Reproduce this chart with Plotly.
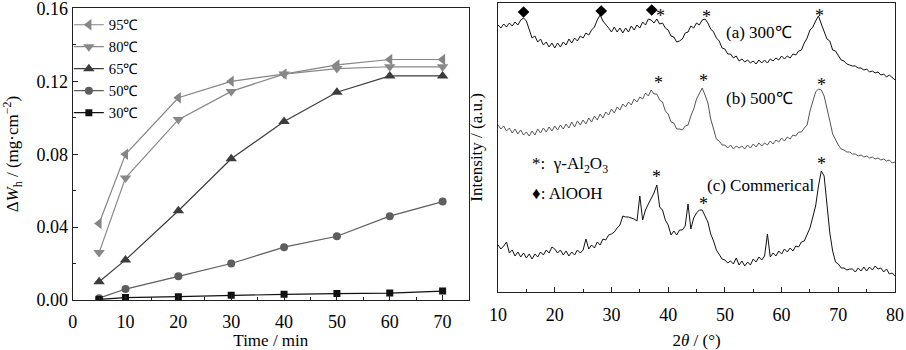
import plotly.graph_objects as go

# ---------------- Left panel data: mass gain vs time ----------------
time_min = [5, 10, 20, 30, 40, 50, 60, 70]
w_95 = [0.042, 0.080, 0.111, 0.120, 0.124, 0.129, 0.132, 0.132]
w_80 = [0.026, 0.067, 0.099, 0.1145, 0.124, 0.127, 0.128, 0.128]
w_65 = [0.010, 0.022, 0.049, 0.0775, 0.098, 0.114, 0.123, 0.123]
w_50 = [0.001, 0.006, 0.013, 0.020, 0.029, 0.035, 0.046, 0.054]
w_30 = [0.0003, 0.0013, 0.0018, 0.0026, 0.0031, 0.0035, 0.0038, 0.0049]
series_names = ["95℃", "80℃", "65℃", "50℃", "30℃"]
left_ticks_x = [0, 10, 20, 30, 40, 50, 60, 70]
left_ticks_y = [0.00, 0.04, 0.08, 0.12, 0.16]

# ---------------- Right panel data: XRD patterns (a.u.) ----------------
theta_start, theta_step, n_pts = 10.0, 0.5, 141
two_theta = [round(theta_start + theta_step * i, 1) for i in range(n_pts)]
xrd_300 = [
    275, 272, 276, 273, 277, 274, 278, 275, 280, 282,
    279, 270, 262, 264, 258, 261, 255, 258, 253, 257,
    252, 257, 253, 258, 255, 261, 257, 262, 259, 264,
    262, 267, 265, 270, 273, 280, 285, 279, 276, 272,
    268, 273, 268, 272, 267, 272, 268, 274, 270, 275,
    272, 278, 275, 281, 280, 277, 281, 276, 277, 272,
    270, 264, 263, 258, 259, 261, 267, 268, 274, 272,
    277, 275, 280, 281, 277, 271, 268, 262, 259, 252,
    251, 246, 246, 242, 244, 239, 241, 238, 240, 237,
    239, 236, 240, 237, 240, 237, 241, 239, 242, 240,
    244, 241, 244, 242, 246, 245, 249, 250, 257, 262,
    270, 273, 279, 284, 276, 269, 261, 259, 250, 249,
    245, 240, 239, 236, 235, 234, 234, 232, 232, 230,
    231, 228, 229, 227, 228, 225, 226, 223, 225, 222,
    220]
xrd_500 = [
    175, 171, 174, 169, 172, 167, 171, 166, 170, 165,
    168, 164, 169, 165, 171, 167, 172, 168, 173, 169,
    174, 170, 175, 171, 176, 172, 178, 173, 179, 175,
    180, 176, 182, 178, 184, 180, 186, 182, 188, 185,
    191, 187, 193, 190, 196, 193, 198, 195, 201, 198,
    203, 201, 207, 204, 210, 206, 206, 200, 198, 189,
    186, 178, 177, 171, 171, 170, 174, 175, 184, 191,
    201, 207, 212, 205, 197, 181, 170, 161, 159, 155,
    155, 152, 155, 151, 154, 152, 154, 151, 155, 152,
    156, 153, 157, 154, 157, 155, 159, 156, 160, 158,
    162, 159, 163, 161, 165, 164, 168, 168, 172, 175,
    189, 198, 208, 211, 210, 204, 190, 179, 166, 160,
    155, 151, 150, 148, 148, 146, 146, 144, 145, 143,
    144, 142, 143, 141, 142, 140, 141, 139, 140, 137,
    138]
xrd_comm = [
    55, 51, 54, 58, 47, 50, 44, 48, 43, 47,
    42, 46, 41, 46, 43, 48, 45, 50, 47, 53,
    51, 47, 50, 45, 49, 44, 48, 45, 50, 47,
    50, 61, 51, 55, 52, 58, 55, 61, 60, 65,
    66, 68, 72, 75, 84, 83, 83, 82, 81, 79,
    104, 80, 90, 96, 102, 107, 115, 93, 90, 80,
    75, 65, 69, 65, 70, 70, 74, 96, 71, 82,
    87, 90, 90, 84, 78, 66, 59, 50, 46, 41,
    40, 37, 39, 36, 42, 35, 39, 34, 38, 35,
    41, 38, 43, 40, 44, 66, 43, 47, 44, 49,
    46, 51, 48, 52, 49, 54, 53, 58, 59, 66,
    72, 83, 94, 114, 129, 124, 98, 67, 49, 38,
    36, 32, 32, 30, 31, 31, 28, 32, 29, 33,
    29, 33, 30, 34, 31, 32, 28, 31, 26, 27,
    24]
xrd_labels = ["(a) 300℃", "(b) 500℃", "(c) Commerical"]
label_pos_x = [56.1, 56.1, 56.2]
label_pos_y = [268, 202, 115]
# phase markers
alooh_x = [14.5, 28.2, 37.1]
alooh_y = [288, 289, 290]
gamma_x = [38.7, 46.7, 66.6, 38.3, 46.3, 67.0, 38.0, 46.3, 67.1]
gamma_y = [288, 287, 288, 221, 223, 219, 127, 100, 140]
right_ticks_x = [10, 20, 30, 40, 50, 60, 70, 80]

FONT = "Liberation Serif, Times New Roman, serif"
AX = "#222222"

fig = go.Figure()

styles = [
    ("triangle-left", "#858585", 10),
    ("triangle-down", "#888888", 10),
    ("triangle-up", "#3c3c3c", 10),
    ("circle", "#5e5e5e", 8),
    ("square", "#111111", 7),
]
for name, vals, (sym, col, sz) in zip(series_names, [w_95, w_80, w_65, w_50, w_30], styles):
    fig.add_trace(go.Scatter(
        x=time_min, y=vals, name=name, mode="lines+markers",
        line=dict(color=col, width=1.2),
        marker=dict(symbol=sym, size=sz, color=col),
        xaxis="x", yaxis="y"))

for vals, col in zip([xrd_300, xrd_500, xrd_comm], ["#111111", "#555555", "#111111"]):
    fig.add_trace(go.Scatter(
        x=two_theta, y=vals, mode="lines", showlegend=False,
        line=dict(color=col, width=1.0), xaxis="x2", yaxis="y2"))

fig.add_trace(go.Scatter(
    x=alooh_x, y=alooh_y, mode="markers", showlegend=False,
    marker=dict(symbol="diamond", size=9, color="#000000"),
    xaxis="x2", yaxis="y2"))

annotations = []
for gx, gy in zip(gamma_x, gamma_y):
    annotations.append(dict(x=gx, y=gy, xref="x2", yref="y2", text="*",
                            showarrow=False, yshift=-4,
                            font=dict(family=FONT, size=18, color="#000")))
for t, lx, ly in zip(xrd_labels, label_pos_x, label_pos_y):
    annotations.append(dict(x=lx, y=ly, xref="x2", yref="y2", text=t,
                            showarrow=False, xanchor="center", yanchor="middle",
                            font=dict(family=FONT, size=17, color="#000")))
annotations.append(dict(x=15.6, y=135, xref="x2", yref="y2",
                        text="*:  γ-Al<sub>2</sub>O<sub>3</sub>", showarrow=False,
                        xanchor="left", yanchor="middle",
                        font=dict(family=FONT, size=17, color="#000")))
annotations.append(dict(x=15.6, y=107, xref="x2", yref="y2",
                        text="♦: AlOOH", showarrow=False,
                        xanchor="left", yanchor="middle",
                        font=dict(family=FONT, size=17, color="#000")))

common_axis = dict(showline=True, linecolor=AX, linewidth=1, mirror=True,
                   showgrid=False, zeroline=False, ticks="inside", ticklen=5,
                   tickcolor=AX, tickwidth=1, ticklabeloverflow="allow",
                   automargin=False,
                   tickfont=dict(family=FONT, size=18, color="#000"))

fig.update_layout(
    width=906, height=350,
    margin=dict(l=0, r=0, t=0, b=0, autoexpand=False),
    paper_bgcolor="white", plot_bgcolor="white",
    font=dict(family=FONT, size=17, color="#000"),
    xaxis=dict(domain=[0.0802, 0.5177], anchor="y", range=[0, 75],
               tickvals=left_ticks_x, ticklabelstandoff=5,
               minor=dict(ticks="inside", ticklen=3, dtick=5, tick0=0, tickcolor=AX),
               title=dict(text="Time / min", font=dict(family=FONT, size=17), standoff=14),
               **common_axis),
    yaxis=dict(domain=[0.1429, 0.9763], anchor="x", range=[0, 0.1601],
               tickvals=left_ticks_y, tickformat=".2f",
               minor=dict(ticks="inside", ticklen=3, dtick=0.02, tick0=0, tickcolor=AX),
               title=dict(text="Δ<i>W</i><sub>h</sub> / (mg·cm<sup>−2</sup>)",
                          font=dict(family=FONT, size=17), standoff=15),
               **common_axis),
    xaxis2=dict(domain=[0.5497, 0.9879], anchor="y2", range=[10, 80],
                tickvals=right_ticks_x, ticklabelstandoff=7,
                minor=dict(ticks="inside", ticklen=3, dtick=5, tick0=10, tickcolor=AX),
                title=dict(text="2<i>θ</i> / (°)", font=dict(family=FONT, size=17), standoff=18),
                **common_axis),
    yaxis2=dict(domain=[0.1666, 0.9914], anchor="x2", range=[8.3, 297],
                showline=True, linecolor=AX, linewidth=1, mirror=True, automargin=False,
                showgrid=False, zeroline=False, showticklabels=False, ticks="",
                title=dict(text="Intensity / (a.u.)", font=dict(family=FONT, size=17), standoff=10)),
    legend=dict(x=0.076, y=0.975, xanchor="left", yanchor="top",
                bgcolor="rgba(0,0,0,0)", font=dict(family=FONT, size=14.6),
                tracegroupgap=0, itemwidth=30),
    annotations=annotations,
    showlegend=True,
)

fig.write_html("out.html")
